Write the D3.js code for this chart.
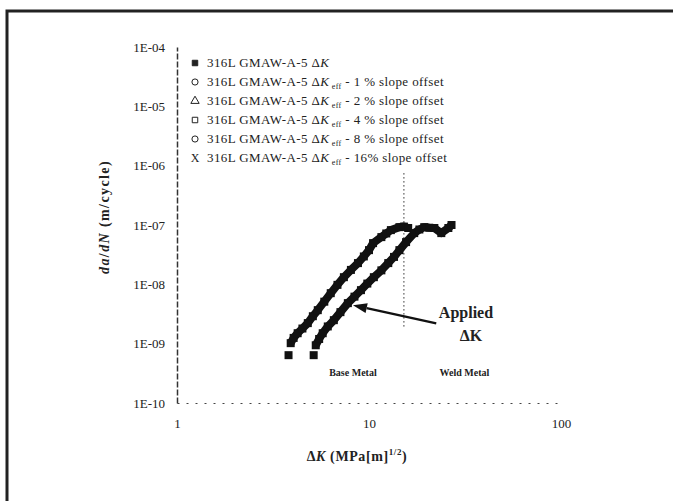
<!DOCTYPE html>
<html>
<head>
<meta charset="utf-8">
<script src="https://cdn.jsdelivr.net/npm/d3@7"></script>
<style>
  body { margin: 0; background: #fff; }
  svg { display: block; font-family: "Liberation Serif", "DejaVu Serif", serif; }
</style>
</head>
<body>
<div id="chart"></div>
<script>
// values
const xTicks = [1, 10, 100]
const yTicks = [1e-4, 1e-5, 1e-6, 1e-7, 1e-8, 1e-9, 1e-10]
const yTickLabels = ["1E-04", "1E-05", "1E-06", "1E-07", "1E-08", "1E-09", "1E-10"]

const baseDK   = [3.81, 3.91, 4.05, 4.25, 4.5, 4.8, 5.1, 5.41, 5.85, 6.32, 6.85, 7.4, 8.05, 8.76, 9.4, 10.0, 10.5, 11.6, 12.3, 13.0, 14.4, 15.2, 16.0]
const baseRate = [6.4e-10, 1.02e-9, 1.25e-9, 1.5e-9, 1.8e-9, 2.22e-9, 2.9e-9, 3.67e-9, 5.1e-9, 7.1e-9, 9.8e-9, 1.32e-8, 1.75e-8, 2.28e-8, 2.95e-8, 3.77e-8, 4.95e-8, 6.25e-8, 7.2e-8, 8.2e-8, 9.2e-8, 9.4e-8, 8.9e-8]

const weldDK   = [5.15, 5.28, 5.5, 5.74, 6.1, 6.56, 7.1, 7.76, 8.4, 9.08, 9.8, 10.6, 11.6, 12.6, 13.5, 14.4, 15.6, 17.2, 18.3, 19.4, 20.6, 21.9, 23.8, 25.9, 26.9]
const weldRate = [6.4e-10, 9.4e-10, 1.2e-9, 1.5e-9, 1.95e-9, 2.49e-9, 3.4e-9, 4.82e-9, 6.2e-9, 7.98e-9, 1.03e-8, 1.32e-8, 1.72e-8, 2.28e-8, 2.9e-8, 3.77e-8, 5.15e-8, 7.3e-8, 8.4e-8, 9.2e-8, 9.0e-8, 8.9e-8, 7.3e-8, 8.9e-8, 1.0e-7]

const legendPrefix = "316L GMAW-A-5 "
const legendOffsets = [null, "1 %", "2 %", "4 %", "8 %", "16%"]
const legendSymbols = ["filledSquare", "circle", "triangle", "square", "circle", "cross"]

const appliedDK = 15.2
const appliedRange = [7.5e-7, 1.9e-9]

const drawChart = () => {
  const width = 673
  const height = 501
  const margin = { top: 47, left: 177 }
  const innerWidth = 384
  const innerHeight = 356

  const svg = d3.select("#chart")
    .append("svg")
      .attr("width", width)
      .attr("height", height)

  // frame of the figure, runs off the right and bottom of the picture
  svg.append("rect")
    .attr("x", 7)
    .attr("y", 11)
    .attr("width", 700)
    .attr("height", 520)
    .attr("fill", "none")
    .attr("stroke", "#222")
    .attr("stroke-width", 3)

  const chart = svg.append("g")
    .attr("transform", `translate(${margin.left}, ${margin.top})`)

  const xScale = d3.scaleLog()
    .domain([1, 100])
    .range([0, innerWidth])
  const yScale = d3.scaleLog()
    .domain([1e-10, 1e-4])
    .range([innerHeight, 0])

  drawAxes(chart, xScale, yScale, innerWidth, innerHeight)
  drawAnnotations(chart, xScale, yScale)
  drawSeries(chart, baseDK, baseRate, xScale, yScale)
  drawSeries(chart, weldDK, weldRate, xScale, yScale)
  drawLegend(chart)
}

const drawAxes = (chart, xScale, yScale, innerWidth, innerHeight) => {
  const xAxis = d3.axisBottom(xScale)
    .tickValues(xTicks)
    .tickFormat(d3.format("d"))
    .tickSize(0)
    .tickPadding(16)
  chart.append("g")
      .attr("transform", `translate(0, ${innerHeight})`)
      .attr("font-family", null)
      .call(xAxis)
      .attr("font-family", null)
      .call(g => g.select(".domain").attr("stroke", "#444").attr("stroke-dasharray", "2,7"))
      .call(g => g.selectAll("text").attr("font-size", 13).attr("fill", "#222"))

  const yAxis = d3.axisLeft(yScale)
    .tickValues(yTicks)
    .tickFormat((d, i) => yTickLabels[i])
    .tickSize(0)
    .tickPadding(12)
  chart.append("g")
      .call(yAxis)
      .attr("font-family", null)
      .call(g => g.select(".domain").attr("stroke", "#333").attr("stroke-width", 1.5).attr("stroke-dasharray", "6,2"))
      .call(g => g.selectAll("text").attr("font-size", 13).attr("fill", "#222"))

  const xTitle = chart.append("text")
    .attr("x", innerWidth / 2 - 12)
    .attr("y", innerHeight + 58)
    .attr("text-anchor", "middle")
    .attr("font-size", 14)
    .attr("font-weight", "bold")
    .attr("letter-spacing", 0.6)
    .attr("fill", "#222")
  xTitle.append("tspan").text("Δ")
  xTitle.append("tspan").attr("font-style", "italic").text("K")
  xTitle.append("tspan").text(" (MPa[m]")
  xTitle.append("tspan").attr("font-size", 9).attr("dy", -6).text("1/2")
  xTitle.append("tspan").attr("dy", 6).text(")")

  const yTitle = chart.append("text")
    .attr("transform", `translate(-68, ${innerHeight / 2 - 8}) rotate(-90)`)
    .attr("text-anchor", "middle")
    .attr("font-size", 14)
    .attr("font-weight", "bold")
    .attr("letter-spacing", 1.4)
    .attr("fill", "#222")
  yTitle.append("tspan").attr("font-style", "italic").text("da")
  yTitle.append("tspan").text("/")
  yTitle.append("tspan").attr("font-style", "italic").text("dN")
  yTitle.append("tspan").text(" (m/cycle)")
}

const drawSeries = (chart, xs, ys, xScale, yScale) => {
  const points = xs.map((x, i) => ({ x: x, y: ys[i] }))
  const lineGenerator = d3.line()
    .x(d => xScale(d.x))
    .y(d => yScale(d.y))

  // the curve is a dense chain of square markers; draw it as a thick band
  chart.append("path")
    .attr("d", lineGenerator(points.slice(1)))
    .attr("fill", "none")
    .attr("stroke", "#111")
    .attr("stroke-width", 8)
    .attr("stroke-linejoin", "round")

  chart.append("g")
    .selectAll("rect")
    .data(points)
    .join("rect")
      .attr("x", d => xScale(d.x) - 4)
      .attr("y", d => yScale(d.y) - 4)
      .attr("width", 8)
      .attr("height", 8)
      .attr("fill", "#111")
}

const drawAnnotations = (chart, xScale, yScale) => {
  chart.append("line")
    .attr("x1", xScale(appliedDK))
    .attr("x2", xScale(appliedDK))
    .attr("y1", yScale(appliedRange[0]))
    .attr("y2", yScale(appliedRange[1]))
    .attr("stroke", "#333")
    .attr("stroke-dasharray", "1.5,2.5")

  // arrow from the "Applied ΔK" label to the weld metal curve
  const tail = [xScale(22.4), yScale(2.2e-9)]
  const tip = [xScale(8.25), yScale(4.46e-9)]
  const angle = Math.atan2(tip[1] - tail[1], tip[0] - tail[0])
  const headLen = 14
  const headHalf = 5
  const back = [tip[0] - headLen * Math.cos(angle), tip[1] - headLen * Math.sin(angle)]
  chart.append("line")
    .attr("x1", tail[0]).attr("y1", tail[1])
    .attr("x2", back[0]).attr("y2", back[1])
    .attr("stroke", "#111")
    .attr("stroke-width", 2.5)
  chart.append("path")
    .attr("d", d3.line()([
      tip,
      [back[0] - headHalf * Math.sin(angle), back[1] + headHalf * Math.cos(angle)],
      [back[0] + headHalf * Math.sin(angle), back[1] - headHalf * Math.cos(angle)]
    ]) + "Z")
    .attr("fill", "#111")

  chart.append("text")
    .attr("x", xScale(32))
    .attr("y", yScale(2.75e-9))
    .attr("text-anchor", "middle")
    .attr("font-size", 16)
    .attr("font-weight", "bold")
    .attr("fill", "#222")
    .text("Applied")
  chart.append("text")
    .attr("x", xScale(34))
    .attr("y", yScale(1.1e-9))
    .attr("text-anchor", "middle")
    .attr("font-size", 16)
    .attr("font-weight", "bold")
    .attr("fill", "#222")
    .text("ΔK")

  chart.append("text")
    .attr("x", xScale(8.25))
    .attr("y", yScale(2.8e-10))
    .attr("text-anchor", "middle")
    .attr("font-size", 10)
    .attr("font-weight", "bold")
    .attr("fill", "#222")
    .text("Base Metal")
  chart.append("text")
    .attr("x", xScale(31.4))
    .attr("y", yScale(2.8e-10))
    .attr("text-anchor", "middle")
    .attr("font-size", 10)
    .attr("font-weight", "bold")
    .attr("fill", "#222")
    .text("Weld Metal")
}

const drawLegend = (chart) => {
  const legend = chart.append("g")
    .attr("transform", "translate(18, 16)")
  const rowGap = 19

  const rows = legend.selectAll("g")
    .data(legendOffsets)
    .join("g")
      .attr("transform", (d, i) => `translate(0, ${i * rowGap})`)

  rows.each(function(d, i) {
    const row = d3.select(this)
    const kind = legendSymbols[i]
    if (kind === "cross") {
      row.append("text")
        .attr("x", 0).attr("y", 4)
        .attr("text-anchor", "middle")
        .attr("font-size", 12)
        .attr("fill", "#222")
        .text("X")
    } else {
      const symbolType = kind === "triangle" ? d3.symbolTriangle
        : kind === "circle" ? d3.symbolCircle : d3.symbolSquare
      row.append("path")
        .attr("d", d3.symbol(symbolType, 30)())
        .attr("fill", kind === "filledSquare" ? "#222" : "none")
        .attr("stroke", "#222")
        .attr("stroke-width", 1)
    }

    const label = row.append("text")
      .attr("x", 12)
      .attr("y", 4)
      .attr("font-size", 13)
      .attr("letter-spacing", 0.4)
      .attr("fill", "#222")
    label.append("tspan").text(legendPrefix + "Δ")
    label.append("tspan").attr("font-style", "italic").text("K")
    if (d !== null) {
      label.append("tspan").attr("font-size", 8).attr("dy", 3).text(" eff")
      label.append("tspan").attr("dy", -3).text(` - ${d} slope offset`)
    }
  })
}

drawChart()
</script>
</body>
</html>
